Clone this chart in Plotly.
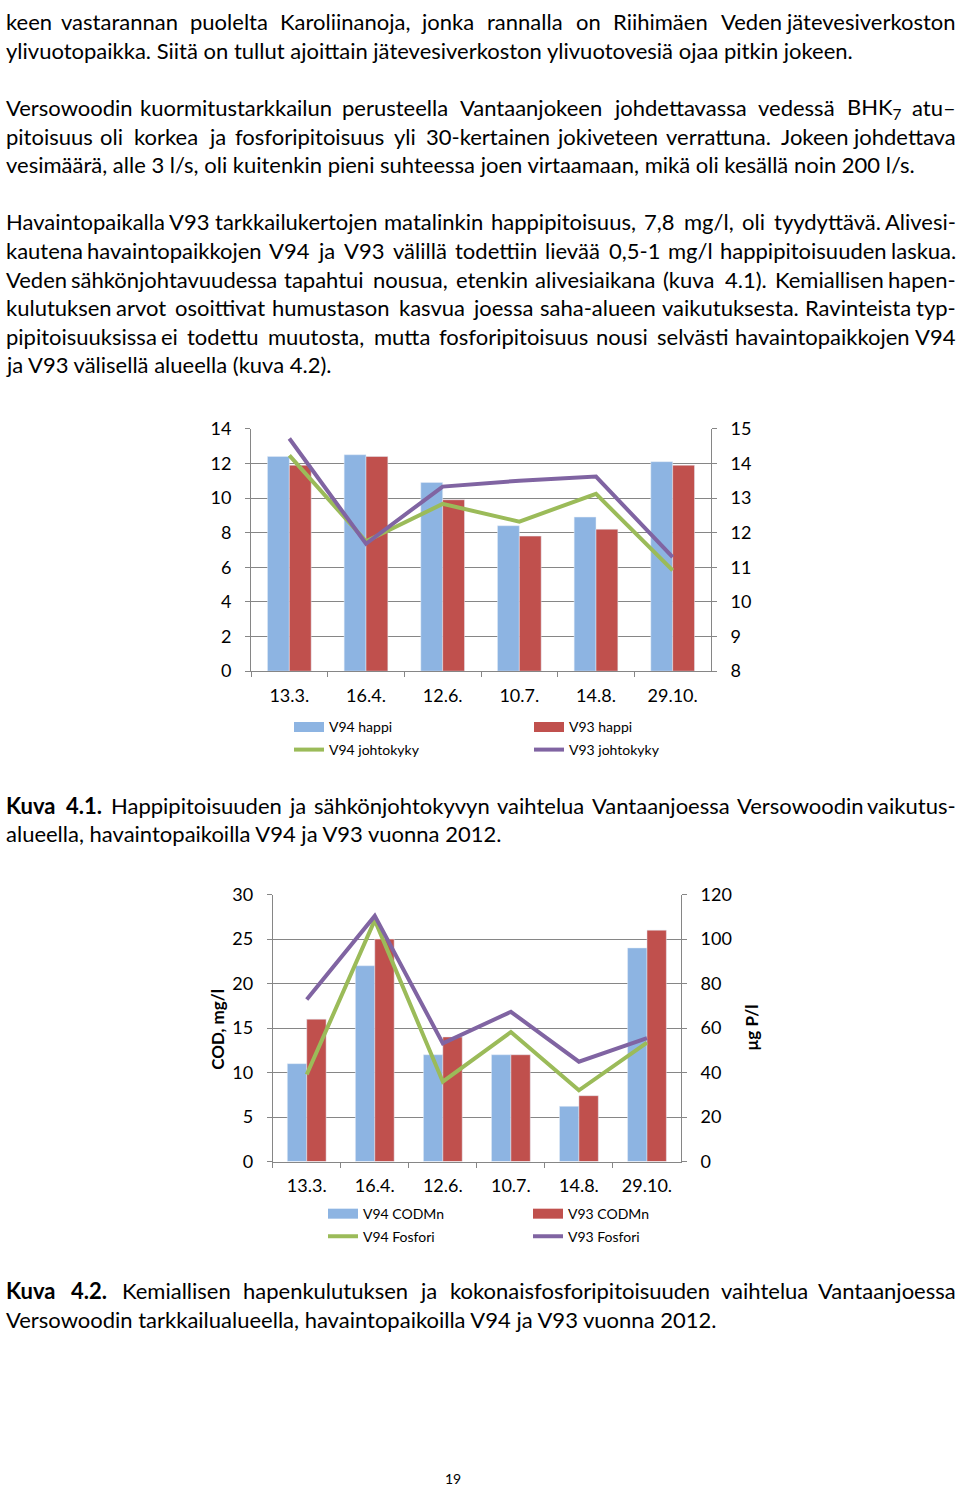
import re
import plotly.graph_objects as go

# ---------------- data ----------------
dates = ["13.3.", "16.4.", "12.6.", "10.7.", "14.8.", "29.10."]

v94_happi = [12.4, 12.5, 10.9, 8.4, 8.9, 12.1]
v93_happi = [11.9, 12.4, 9.9, 7.8, 8.2, 11.9]
v94_johtokyky = [14.23, 11.75, 12.83, 12.32, 13.12, 10.91]
v93_johtokyky = [14.72, 11.68, 13.33, 13.5, 13.62, 11.29]

v94_cod = [11, 22, 12, 12, 6.2, 24]
v93_cod = [16, 25, 14, 12, 7.4, 26]
v94_fosfori = [39.1, 108.5, 35.9, 58.2, 32.0, 53.4]
v93_fosfori = [72.8, 110.4, 53.1, 67.3, 44.9, 55.5]

# ---------------- styles ----------------
W, H = 960, 1497
BLUE, RED, GREEN, PURPLE = "#8DB4E2", "#C0504D", "#9BBB59", "#8064A2"
GRID = "#868686"
FONT = "Lato"
BODY = 22

fig = go.Figure()


def bar(y, name, color, xa, ya, lg):
    fig.add_trace(go.Bar(x=dates, y=y, name=name, marker_color=color,
                         xaxis=xa, yaxis=ya, showlegend=False))
    # wide swatch for the legend, like the reference's rectangle keys
    fig.add_trace(go.Scatter(x=[None], y=[None], name=name, mode="lines",
                             line=dict(color=color, width=10), xaxis=xa, yaxis=ya,
                             legend=lg, hoverinfo="skip"))


def line(y, name, color, xa, ya, lg):
    fig.add_trace(go.Scatter(x=dates, y=y, name=name, mode="lines",
                             line=dict(color=color, width=4), xaxis=xa, yaxis=ya, legend=lg))


# chart 1
bar(v94_happi, "V94 happi", BLUE, "x", "y", "legend")
bar(v93_happi, "V93 happi", RED, "x", "y", "legend")
line(v94_johtokyky, "V94 johtokyky", GREEN, "x", "y2", "legend2")
line(v93_johtokyky, "V93 johtokyky", PURPLE, "x", "y2", "legend2")

# chart 2
bar(v94_cod, "V94 CODMn", BLUE, "x2", "y3", "legend3")
bar(v93_cod, "V93 CODMn", RED, "x2", "y3", "legend3")
line(v94_fosfori, "V94 Fosfori", GREEN, "x2", "y4", "legend4")
line(v93_fosfori, "V93 Fosfori", PURPLE, "x2", "y4", "legend4")


def px_x(x):
    return x / W


def px_y(y):
    return 1 - y / H


tickfont = dict(family=FONT, size=18, color="#000")

xcommon = dict(type="category", showline=True, linecolor=GRID, linewidth=1,
               ticks="outside", tickson="boundaries", ticklen=5, tickcolor=GRID,
               showgrid=False, tickfont=tickfont, fixedrange=True, ticklabelstandoff=8)
yleft = dict(showline=True, linecolor=GRID, linewidth=1, ticks="outside", ticklen=5,
             tickcolor=GRID, showgrid=True, gridcolor=GRID, gridwidth=1, zeroline=False,
             tickfont=tickfont, ticklabelstandoff=10, fixedrange=True)
yright = dict(showline=True, linecolor=GRID, linewidth=1, ticks="outside", ticklen=5,
              tickcolor=GRID, showgrid=False, zeroline=False, side="right",
              tickfont=tickfont, ticklabelstandoff=10, fixedrange=True)

legfont = dict(family=FONT, size=14, color="#000")


def leg(x, y, ew):
    return dict(orientation="h", x=px_x(x), xanchor="left", y=px_y(y), yanchor="middle",
                font=legfont, entrywidth=ew, bgcolor="rgba(0,0,0,0)", itemwidth=30,
                tracegroupgap=0)


fig.update_layout(
    width=W, height=H, margin=dict(l=0, r=0, t=0, b=0),
    paper_bgcolor="white", plot_bgcolor="white",
    barmode="group", bargap=0.43, bargroupgap=0,
    font=dict(family=FONT, color="#000"),
    xaxis=dict(domain=[px_x(251), px_x(711)], anchor="y", **xcommon),
    yaxis=dict(domain=[px_y(669), px_y(423)], range=[0, 14], dtick=2, anchor="x", **yleft),
    yaxis2=dict(range=[8, 15], dtick=1, overlaying="y", anchor="x", **yright),
    xaxis2=dict(domain=[px_x(272.7), px_x(681)], anchor="y3", **xcommon),
    yaxis3=dict(domain=[px_y(1166.7), px_y(895.7)], range=[0, 30], dtick=5, anchor="x2", **yleft),
    yaxis4=dict(range=[0, 120], dtick=20, overlaying="y3", anchor="x2", **yright),
    legend=leg(289, 726, 195),
    legend2=leg(289, 749, 195),
    legend3=leg(323, 1220, 160),
    legend4=leg(323, 1243, 160),
)

# ---------------- page text ----------------
body_lines = [
    ("keen vastarannan puolelta Karoliinanoja, jonka rannalla on Riihimäen Veden jätevesiverkoston", 10, True),
    ("ylivuotopaikka. Siitä on tullut ajoittain jätevesiverkoston ylivuotovesiä ojaa pitkin jokeen.", 39, False),
    ("Versowoodin kuormitustarkkailun perusteella Vantaanjokeen johdettavassa vedessä BHK<sub>7</sub> atu–", 97, True),
    ("pitoisuus oli korkea ja fosforipitoisuus yli 30-kertainen jokiveteen verrattuna. Jokeen johdettava", 126, True),
    ("vesimäärä, alle 3 l/s, oli kuitenkin pieni suhteessa joen virtaamaan, mikä oli kesällä noin 200 l/s.", 155, False),
    ("Havaintopaikalla V93 tarkkailukertojen matalinkin happipitoisuus, 7,8 mg/l, oli tyydyttävä. Alivesi-", 213, True),
    ("kautena havaintopaikkojen V94 ja V93 välillä todettiin lievää 0,5-1 mg/l happipitoisuuden laskua.", 242, True),
    ("Veden sähkönjohtavuudessa tapahtui nousua, etenkin alivesiaikana (kuva 4.1). Kemiallisen hapen-", 271, True),
    ("kulutuksen arvot osoittivat humustason kasvua joessa saha-alueen vaikutuksesta. Ravinteista typ-", 300, True),
    ("pipitoisuuksissa ei todettu muutosta, mutta fosforipitoisuus nousi selvästi havaintopaikkojen V94", 329, True),
    ("ja V93 välisellä alueella (kuva 4.2).", 358, False),
    ("<b>Kuva</b> <b>4.1.</b> Happipitoisuuden ja sähkönjohtokyvyn vaihtelua Vantaanjoessa Versowoodin vaikutus-", 805, True),
    ("alueella, havaintopaikoilla V94 ja V93 vuonna 2012.", 834, False),
    ("<b>Kuva</b> <b>4.2.</b> Kemiallisen hapenkulutuksen ja kokonaisfosforipitoisuuden vaihtelua  Vantaanjoessa", 1298, True),
    ("Versowoodin tarkkailualueella, havaintopaikoilla V94 ja V93 vuonna 2012.", 1327, False),
]

LEFT, RIGHT = 4, 958

# approximate glyph advance widths (em) used only to spread justified lines
_groups = [
    ("ijl.,:;'!|", 0.23), ("ftr", 0.34), ("sczS", 0.42), ("aäkvxyge", 0.49),
    ("oöunhdbpq", 0.55), ("m", 0.83), ("w", 0.74), ("0123456789", 0.58),
    ("-", 0.33), ("–", 0.55), ("()", 0.30), ("/", 0.37), ("I", 0.27), ("J", 0.38),
    ("MW", 0.85), ("BEFLPKRTVYZ", 0.62), ("ACDGHNOQU", 0.70),
]
CW = {}
for chars, w in _groups:
    for ch in chars:
        CW[ch] = w


def est_width(s, size=BODY):
    bold = False
    sub = False
    tot = 0.0
    for tok in re.split(r"(<[^>]+>)", s):
        if tok.startswith("<"):
            t = tok.lower()
            bold = True if t == "<b>" else (False if t == "</b>" else bold)
            sub = True if t == "<sub>" else (False if t == "</sub>" else sub)
            continue
        for ch in tok:
            w = 0.2 if ch == " " else CW.get(ch, 0.5)
            if bold:
                w *= 1.06
            if sub:
                w *= 0.7
            tot += w
    return tot * size


def add_text(text, x, y, anchor, size=BODY):
    fig.add_annotation(text=text, x=px_x(x), y=px_y(y), xref="paper", yref="paper",
                       xanchor=anchor, yanchor="middle", showarrow=False,
                       font=dict(family=FONT, size=size, color="#000"))


for text, y, just in body_lines:
    if not just:
        add_text(text, LEFT, y, "left")
        continue
    words = [w for w in text.split(" ") if w != ""]
    ww = [est_width(w) for w in words]
    gap = (RIGHT - LEFT - sum(ww)) / (len(words) - 1)
    x = LEFT
    for k, (wd, w) in enumerate(zip(words, ww)):
        if k == 0:
            add_text(wd, LEFT, y, "left")
        elif k == len(words) - 1:
            add_text(wd, RIGHT, y, "right")
        else:
            add_text(wd, x + w / 2, y, "center")
        x += w + gap

# axis titles of chart 2
fig.add_annotation(text="<b>COD, mg/l</b>", x=px_x(218), y=px_y(1033), xref="paper", yref="paper",
                   textangle=-90, showarrow=False, xanchor="center", yanchor="middle",
                   font=dict(family=FONT, size=17, color="#000"))
fig.add_annotation(text="<b>µg P/l</b>", x=px_x(752), y=px_y(1031), xref="paper", yref="paper",
                   textangle=-90, showarrow=False, xanchor="center", yanchor="middle",
                   font=dict(family=FONT, size=17, color="#000"))

# page number
add_text("19", 453, 1488, "center", size=14)

fig.write_html(
    "out.html",
    config={"displayModeBar": False},
    post_script=(
        "document.documentElement.style.margin='0';"
        "document.body.style.margin='0';document.body.style.overflow='hidden';"
        "var d=document.getElementById('{plot_id}');"
        "d.style.position='fixed';d.style.left='0px';d.style.top='0px';"
    ),
)
